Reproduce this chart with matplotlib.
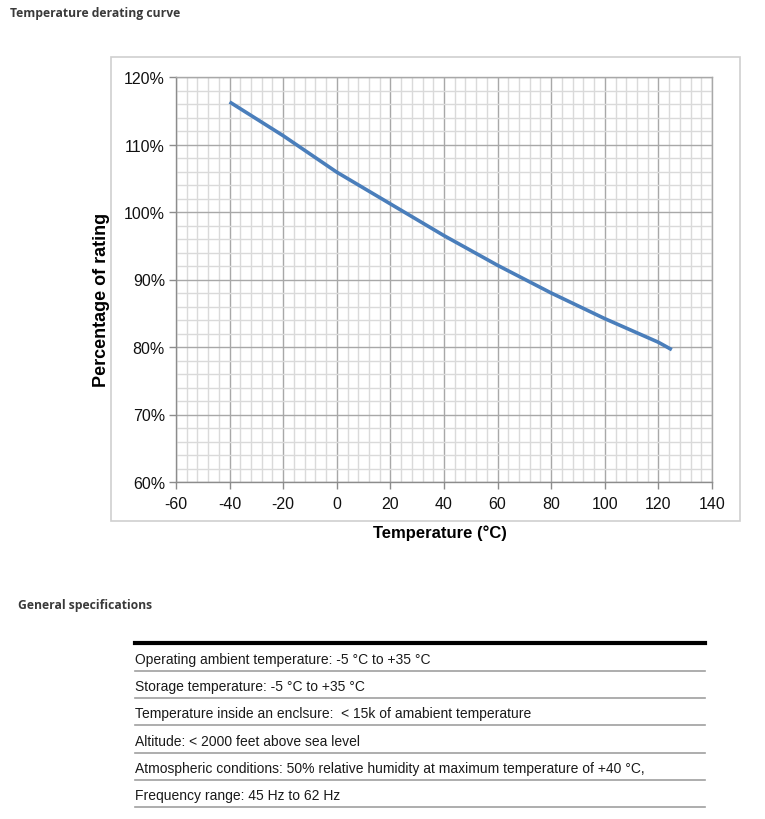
import matplotlib

matplotlib.use("Agg")
import matplotlib.pyplot as plt  # noqa: E402
from matplotlib.patches import Rectangle  # noqa: E402
from matplotlib.ticker import FuncFormatter, MultipleLocator  # noqa: E402

plt.rcParams["axes.unicode_minus"] = False

# Derating curve
temps = [-40, -30, -20, -10, 0, 20, 40, 60, 80, 100, 120, 125]
rating = [116.3, 113.8, 111.3, 108.6, 105.9, 101.2, 96.5, 92.1, 88.0, 84.2, 80.7, 79.6]

spec_rows = [
    "Operating ambient temperature: -5 \u00b0C to +35 \u00b0C",
    "Storage temperature: -5 \u00b0C to +35 \u00b0C",
    "Temperature inside an enclsure:  < 15k of amabient temperature",
    "Altitude: < 2000 feet above sea level",
    "Atmospheric conditions: 50% relative humidity at maximum temperature of +40 \u00b0C,",
    "Frequency range: 45 Hz to 62 Hz",
]

W, H = 765, 820
fig = plt.figure(figsize=(W / 100, H / 100), dpi=100)


def fx(px):
    return px / W


def fy(py):
    return 1 - py / H


sans = ["Liberation Sans", "DejaVu Sans"]
ui = ["Open Sans", "DejaVu Sans"]

# page headings
fig.text(fx(10), fy(14), "Temperature derating curve", family=ui, weight="bold",
         fontsize=8.7, color="#3a3a3a", va="center", ha="left")
fig.text(fx(18), fy(606), "General specifications", family=ui, weight="bold",
         fontsize=8.7, color="#3a3a3a", va="center", ha="left")

# chart frame
fig.patches.append(Rectangle((fx(111), fy(522)), fx(740) - fx(111), fy(58) - fy(522),
                             transform=fig.transFigure, fill=False,
                             edgecolor="#cfcfcf", linewidth=1.2))

ax = fig.add_axes([fx(176), fy(483), fx(712) - fx(176), fy(78) - fy(483)])
ax.set_xlim(-60, 140)
ax.set_ylim(60, 120)
ax.xaxis.set_major_locator(MultipleLocator(20))
ax.xaxis.set_minor_locator(MultipleLocator(4))
ax.yaxis.set_major_locator(MultipleLocator(10))
ax.yaxis.set_minor_locator(MultipleLocator(2))
ax.yaxis.set_major_formatter(FuncFormatter(lambda v, p: f"{v:.0f}%"))

ax.grid(which="minor", color="#dadada", linewidth=1.0)
ax.grid(which="major", color="#a8a8a8", linewidth=1.0)
ax.set_axisbelow(True)

for side in ("top", "right"):
    ax.spines[side].set_color("#a8a8a8")
    ax.spines[side].set_linewidth(1.0)
for side in ("left", "bottom"):
    ax.spines[side].set_color("#8c8c8c")
    ax.spines[side].set_linewidth(1.0)

ax.tick_params(which="major", length=5, width=1, color="#8c8c8c", labelsize=11.5)
ax.tick_params(axis="x", which="major", pad=5)
ax.tick_params(axis="y", which="major", pad=3)
ax.tick_params(which="minor", length=0)
for lab in ax.get_xticklabels() + ax.get_yticklabels():
    lab.set_family(sans)
    lab.set_color("#111111")

ax.plot(temps, rating, color="#4a7ebb", linewidth=2.6, solid_capstyle="butt")

fig.text(fx(101), fy(300), "Percentage of rating", family=sans, weight="bold",
         fontsize=13, rotation=90, ha="center", va="center", color="#000000")
fig.text(fx(440), fy(533), "Temperature (\u00b0C)", family=sans, weight="bold",
         fontsize=12, ha="center", va="center", color="#000000")

# specification table
x0, x1 = fx(135), fx(705)
fig.add_artist(plt.Line2D([x0, x1], [fy(644), fy(644)], color="#000000",
                          linewidth=3, transform=fig.transFigure))
row_lines = [672, 699, 726, 754, 781, 808]
for text, yline in zip(spec_rows, row_lines):
    fig.text(x0, fy(yline - 12), text, family=sans, fontsize=10,
             color="#1a1a1a", ha="left", va="center")
    fig.add_artist(plt.Line2D([x0, x1], [fy(yline), fy(yline)], color="#a0a0a0",
                              linewidth=1.2, transform=fig.transFigure))

fig.savefig("out.png", dpi=100, facecolor="white")
